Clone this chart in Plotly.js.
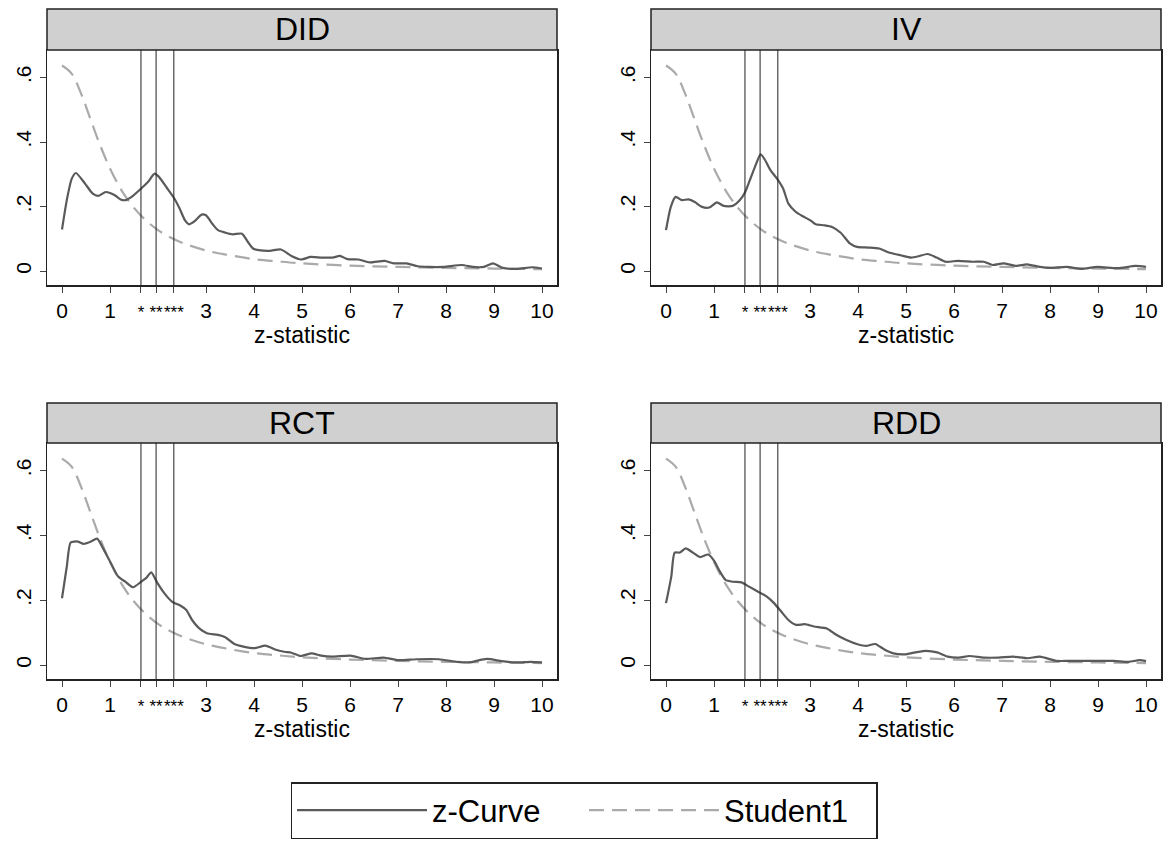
<!DOCTYPE html>
<html>
<head>
<meta charset="utf-8">
<script src="https://cdn.plot.ly/plotly-3.0.1.min.js"></script>
<style>html,body{margin:0;padding:0;background:#fff;}#chart{width:1168px;height:842px;}</style>
</head>
<body>
<div id="chart"></div>
<script>
// ---- data ----
const categories = ['DID', 'IV', 'RCT', 'RDD'];

const didX = [0, 0.1, 0.2, 0.29, 0.48, 0.64, 0.75, 0.91, 1.0, 1.1, 1.22, 1.33, 1.45, 1.65, 1.79, 1.93, 2.02, 2.18, 2.34, 2.45, 2.56, 2.65, 2.75, 2.91, 3.0, 3.14, 3.25, 3.41, 3.56, 3.75, 3.87, 3.98, 4.1, 4.33, 4.56, 4.79, 4.98, 5.18, 5.41, 5.64, 5.79, 5.95, 6.18, 6.41, 6.72, 6.91, 7.18, 7.41, 7.64, 7.95, 8.33, 8.56, 8.79, 8.98, 9.18, 9.48, 9.8, 10];
const didY = [0.129, 0.22, 0.285, 0.304, 0.271, 0.240, 0.233, 0.245, 0.242, 0.235, 0.222, 0.220, 0.230, 0.256, 0.276, 0.302, 0.292, 0.259, 0.225, 0.194, 0.158, 0.145, 0.153, 0.175, 0.173, 0.145, 0.127, 0.119, 0.114, 0.116, 0.091, 0.070, 0.065, 0.063, 0.067, 0.046, 0.036, 0.044, 0.042, 0.042, 0.047, 0.037, 0.036, 0.027, 0.032, 0.024, 0.024, 0.015, 0.013, 0.013, 0.019, 0.013, 0.013, 0.024, 0.010, 0.007, 0.012, 0.008];

const ivX = [0, 0.1, 0.2, 0.33, 0.47, 0.6, 0.75, 0.9, 1.06, 1.2, 1.39, 1.54, 1.65, 1.76, 1.88, 1.97, 2.06, 2.18, 2.32, 2.44, 2.55, 2.7, 2.85, 3.0, 3.12, 3.3, 3.46, 3.64, 3.83, 3.98, 4.21, 4.44, 4.66, 4.89, 5.11, 5.26, 5.45, 5.64, 5.83, 6.09, 6.39, 6.62, 6.81, 7.03, 7.3, 7.52, 7.79, 8.01, 8.35, 8.65, 8.99, 9.41, 9.78, 10];
const ivY = [0.127, 0.199, 0.230, 0.220, 0.222, 0.214, 0.199, 0.197, 0.213, 0.202, 0.202, 0.220, 0.245, 0.287, 0.333, 0.362, 0.345, 0.312, 0.285, 0.256, 0.209, 0.184, 0.170, 0.158, 0.145, 0.142, 0.137, 0.119, 0.086, 0.075, 0.073, 0.070, 0.057, 0.049, 0.042, 0.046, 0.053, 0.042, 0.029, 0.032, 0.029, 0.029, 0.019, 0.024, 0.016, 0.021, 0.013, 0.010, 0.013, 0.007, 0.013, 0.009, 0.016, 0.013];

const rctX = [0, 0.1, 0.18, 0.33, 0.45, 0.6, 0.73, 0.87, 1.02, 1.17, 1.33, 1.48, 1.64, 1.75, 1.86, 1.98, 2.13, 2.29, 2.48, 2.59, 2.71, 2.86, 3.02, 3.25, 3.4, 3.59, 3.78, 4.01, 4.24, 4.44, 4.63, 4.78, 4.97, 5.2, 5.4, 5.63, 6.01, 6.32, 6.7, 7.01, 7.39, 7.85, 8.23, 8.47, 8.85, 9.16, 9.46, 9.77, 10];
const rctY = [0.206, 0.304, 0.378, 0.381, 0.374, 0.381, 0.390, 0.356, 0.314, 0.273, 0.256, 0.240, 0.256, 0.268, 0.286, 0.255, 0.222, 0.196, 0.182, 0.170, 0.139, 0.113, 0.098, 0.093, 0.086, 0.065, 0.057, 0.052, 0.060, 0.048, 0.041, 0.038, 0.028, 0.036, 0.029, 0.026, 0.029, 0.019, 0.023, 0.015, 0.018, 0.018, 0.010, 0.008, 0.019, 0.012, 0.008, 0.010, 0.008];

const rddX = [0, 0.11, 0.18, 0.29, 0.41, 0.56, 0.71, 0.88, 1.01, 1.12, 1.24, 1.39, 1.57, 1.73, 1.91, 2.1, 2.25, 2.4, 2.55, 2.71, 2.89, 3.08, 3.35, 3.53, 3.76, 3.99, 4.17, 4.36, 4.55, 4.74, 4.97, 5.19, 5.42, 5.65, 5.87, 6.1, 6.32, 6.62, 6.93, 7.23, 7.53, 7.79, 8.13, 8.43, 8.88, 9.33, 9.64, 9.86, 10];
const rddY = [0.191, 0.273, 0.347, 0.347, 0.360, 0.347, 0.333, 0.341, 0.320, 0.289, 0.263, 0.257, 0.255, 0.242, 0.227, 0.211, 0.191, 0.165, 0.139, 0.124, 0.126, 0.119, 0.113, 0.095, 0.077, 0.064, 0.059, 0.065, 0.048, 0.036, 0.033, 0.039, 0.044, 0.039, 0.026, 0.023, 0.028, 0.023, 0.023, 0.026, 0.021, 0.026, 0.013, 0.013, 0.013, 0.013, 0.010, 0.015, 0.012];

const studentX = [0, 0.2, 0.4, 0.6, 0.8, 1.0, 1.25, 1.5, 1.75, 2.0, 2.25, 2.5, 3.0, 3.5, 4.0, 4.5, 5.0, 6.0, 7.0, 8.0, 9.0, 10.0];
const studentY = [0.637, 0.612, 0.549, 0.468, 0.388, 0.318, 0.248, 0.196, 0.157, 0.127, 0.105, 0.088, 0.064, 0.049, 0.037, 0.030, 0.024, 0.017, 0.013, 0.010, 0.008, 0.006];

const sigLines = [1.645, 1.96, 2.33];
const xTickVals = [0, 1, 1.645, 1.96, 2.33, 3, 4, 5, 6, 7, 8, 9, 10];
const xTickText = ['0', '1', '*', '**', '***', '3', '4', '5', '6', '7', '8', '9', '10'];
const yTickVals = [0, 0.2, 0.4, 0.6];
const yTickText = ['0', '.2', '.4', '.6'];
const seriesNames = ['z-Curve', 'Student1'];

// ---- layout helpers ----
const W = 1168, H = 842;
const FONT = 'Arial, "Liberation Sans", Helvetica, sans-serif';
const zx = [didX, ivX, rctX, rddX];
const zy = [didY, ivY, rctY, rddY];
// star labels drawn a little smaller, as in the reference
const xTickShown = xTickText.map(t => t.indexOf('*') >= 0 ? '<span style="font-size:17px">' + t + '</span>' : t);

// panel pixel boxes (plot areas) and header strips
const panels = [
  {x0: 47, x1: 557, y0: 50, y1: 285, hy0: 9},
  {x0: 651, x1: 1161, y0: 50, y1: 285, hy0: 9},
  {x0: 47, x1: 557, y0: 443, y1: 679, hy0: 403},
  {x0: 651, x1: 1161, y0: 443, y1: 679, hy0: 403}
];
const px = v => v / W;
const py = v => 1 - v / H;

const traces = [];
const layout = {
  width: W, height: H,
  margin: {l: 0, r: 0, t: 0, b: 0},
  paper_bgcolor: '#ffffff',
  plot_bgcolor: '#ffffff',
  font: {family: FONT, color: '#000', size: 21},
  shapes: [],
  annotations: [],
  showlegend: true,
  legend: {
    orientation: 'h',
    x: 0.5, xanchor: 'center',
    y: py(782), yanchor: 'top',
    bordercolor: '#222', borderwidth: 1.5,
    bgcolor: '#fff',
    font: {family: FONT, size: 31, color: '#000'},
    itemwidth: 130,
    entrywidth: 147,
    entrywidthmode: 'pixels',
    tracegroupgap: 0
  }
};

categories.forEach((cat, i) => {
  const p = panels[i];
  const sfx = i === 0 ? '' : String(i + 1);
  const xa = 'x' + sfx, ya = 'y' + sfx;
  traces.push({
    type: 'scatter', mode: 'lines', x: studentX, y: studentY,
    xaxis: xa, yaxis: ya, name: seriesNames[1], legendrank: 2,
    showlegend: i === 0,
    line: {color: '#aaaaaa', width: 2.2, dash: '15px,8px', shape: 'spline', smoothing: 1}
  });
  traces.push({
    type: 'scatter', mode: 'lines', x: zx[i], y: zy[i],
    xaxis: xa, yaxis: ya, name: seriesNames[0], legendrank: 1,
    showlegend: i === 0,
    line: {color: '#5a5a5a', width: 2.2, shape: 'spline', smoothing: 0.6}
  });
  layout['xaxis' + sfx] = {
    domain: [px(p.x0), px(p.x1)], anchor: ya,
    range: [-0.3125, 10.3125],
    tickmode: 'array', tickvals: xTickVals, ticktext: xTickShown, tickangle: 0,
    ticks: 'outside', ticklen: 6, tickcolor: '#444', tickwidth: 1,
    showgrid: false, zeroline: false,
    showline: true, mirror: true, linecolor: '#222', linewidth: 1.5,
    tickfont: {family: FONT, size: 21, color: '#000'},
    title: {text: 'z-statistic', font: {family: FONT, size: 23, color: '#000'}, standoff: 0}
  };
  layout['yaxis' + sfx] = {
    domain: [py(p.y1), py(p.y0)], anchor: xa,
    range: [-0.043, 0.685],
    tickmode: 'array', tickvals: yTickVals, ticktext: yTickText, tickangle: -90,
    ticks: 'outside', ticklen: 6, tickcolor: '#444', tickwidth: 1,
    showgrid: false, zeroline: false,
    showline: true, mirror: true, linecolor: '#222', linewidth: 1.5,
    tickfont: {family: FONT, size: 21, color: '#000'}
  };
  // significance lines
  sigLines.forEach(v => {
    layout.shapes.push({
      type: 'line', xref: xa, yref: ya + ' domain',
      x0: v, x1: v, y0: 0, y1: 1,
      line: {color: '#222', width: 1}, layer: 'above'
    });
  });
  // header strip
  layout.shapes.push({
    type: 'rect', xref: 'paper', yref: 'paper',
    x0: px(p.x0), x1: px(p.x1), y0: py(p.y0), y1: py(p.hy0),
    fillcolor: '#d0d0d0', line: {color: '#222', width: 1.5}
  });
  layout.annotations.push({
    xref: 'paper', yref: 'paper',
    x: px((p.x0 + p.x1) / 2), y: py((p.y0 + p.hy0) / 2),
    xanchor: 'center', yanchor: 'middle', showarrow: false,
    text: cat, font: {family: FONT, size: 32, color: '#000'}
  });
});

Plotly.newPlot('chart', traces, layout, {staticPlot: true, displayModeBar: false});
</script>
</body>
</html>
